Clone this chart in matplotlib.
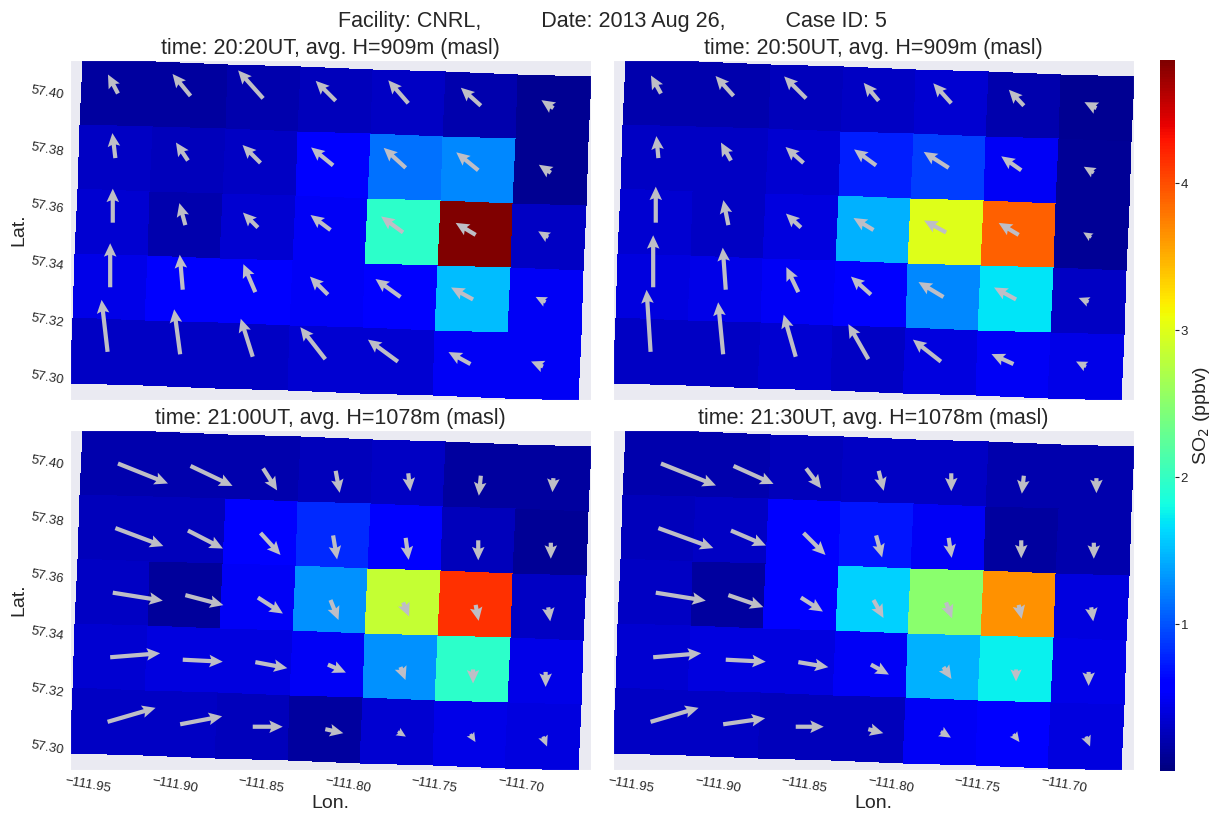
import matplotlib
matplotlib.use("Agg")
import matplotlib.pyplot as plt
import seaborn as sns
import numpy as np

sns.set_style("dark")
plt.rcParams["font.family"] = ["Liberation Sans", "DejaVu Sans"]
plt.rcParams["text.color"] = "#262626"

# grade de 2.5 km (canto NO + passos de coluna / linha em graus)
lon0, lat0 = -111.9529, 57.4102
col_dlon, col_dlat = 0.04196, -0.000857
row_dlon, row_dlat = -0.0015, -0.02268
n_rows, n_cols = 5, 7

tempos = ["20:20UT", "20:50UT", "21:00UT", "21:30UT"]
alturas = [909, 909, 1078, 1078]

# SO2 (ppbv), linhas de norte para sul, colunas de oeste para leste
so2_2020 = [[0.15, 0.15, 0.20, 0.25, 0.30, 0.20, 0.08],
            [0.30, 0.25, 0.30, 0.60, 1.15, 1.25, 0.08],
            [0.35, 0.20, 0.35, 0.50, 1.95, 4.84, 0.30],
            [0.45, 0.55, 0.55, 0.50, 0.60, 1.50, 0.50],
            [0.30, 0.30, 0.30, 0.35, 0.35, 0.50, 0.50]]
so2_2050 = [[0.20, 0.20, 0.25, 0.30, 0.35, 0.20, 0.08],
            [0.30, 0.30, 0.35, 0.75, 0.90, 0.50, 0.10],
            [0.35, 0.30, 0.40, 1.45, 3.00, 3.90, 0.10],
            [0.40, 0.45, 0.50, 0.55, 1.25, 1.70, 0.30],
            [0.30, 0.30, 0.35, 0.30, 0.40, 0.50, 0.45]]
so2_2100 = [[0.20, 0.20, 0.20, 0.25, 0.30, 0.15, 0.15],
            [0.25, 0.25, 0.55, 0.80, 0.55, 0.25, 0.10],
            [0.30, 0.12, 0.50, 1.30, 2.85, 4.15, 0.30],
            [0.35, 0.40, 0.40, 0.50, 1.30, 1.95, 0.45],
            [0.30, 0.30, 0.25, 0.15, 0.35, 0.45, 0.40]]
so2_2130 = [[0.20, 0.20, 0.25, 0.30, 0.30, 0.20, 0.20],
            [0.25, 0.30, 0.60, 0.70, 0.50, 0.15, 0.20],
            [0.30, 0.15, 0.55, 1.60, 2.50, 3.65, 0.40],
            [0.35, 0.40, 0.40, 0.50, 1.45, 1.75, 0.45],
            [0.30, 0.30, 0.25, 0.25, 0.50, 0.60, 0.40]]

# vento (m/s)
u_2020 = [[-2.0, -3.6, -5.0, -4.0, -4.0, -4.0, -2.4],
          [-0.6, -2.4, -3.6, -4.4, -4.4, -4.4, -2.4],
          [0.0, -1.2, -3.0, -4.0, -4.4, -4.0, -2.0],
          [0.0, -0.6, -2.4, -3.6, -5.0, -4.4, -2.0],
          [-1.2, -1.2, -2.4, -5.0, -6.0, -4.4, -2.4]]
v_2020 = [[3.8, 4.4, 5.6, 4.0, 4.6, 3.6, 1.6],
          [5.0, 3.6, 3.6, 3.6, 4.0, 3.6, 1.6],
          [6.8, 4.4, 3.0, 3.0, 3.2, 2.4, 1.2],
          [8.8, 7.0, 5.6, 3.6, 3.6, 2.4, 1.0],
          [10.4, 9.0, 7.6, 6.4, 4.4, 2.4, 1.0]]
u_2050 = [[-2.0, -3.6, -4.4, -3.0, -3.6, -3.0, -2.4],
          [-0.4, -2.0, -3.6, -4.4, -5.0, -4.0, -2.0],
          [0.0, -1.0, -3.0, -4.0, -4.4, -4.0, -1.6],
          [0.0, -0.6, -2.4, -4.0, -5.0, -4.4, -2.0],
          [-0.8, -1.0, -2.4, -4.0, -5.6, -4.4, -2.0]]
v_2050 = [[3.6, 4.0, 4.4, 3.6, 4.0, 3.2, 1.2],
          [4.4, 3.6, 3.2, 3.2, 3.2, 2.8, 1.2],
          [7.2, 5.0, 2.8, 2.4, 2.4, 2.4, 1.0],
          [10.4, 8.4, 5.0, 3.6, 3.0, 2.4, 0.8],
          [12.4, 10.4, 8.4, 7.0, 4.4, 2.0, 1.0]]
u_2100 = [[10.0, 8.4, 2.8, 0.8, 0.4, -0.4, -0.2],
          [9.6, 7.0, 4.0, 0.8, 0.6, 0.0, 0.0],
          [10.0, 7.6, 5.0, 1.6, 1.2, 0.6, 0.4],
          [10.0, 8.0, 6.4, 3.6, 1.0, 0.0, 0.0],
          [9.6, 8.4, 6.0, 3.6, 1.6, 1.0, 0.8]]
v_2100 = [[-4.0, -4.0, -4.4, -4.4, -3.6, -4.0, -2.8],
          [-3.6, -3.6, -4.4, -4.8, -4.4, -4.0, -3.2],
          [-1.6, -2.0, -3.2, -4.0, -2.8, -3.2, -2.8],
          [0.8, -0.4, -1.2, -1.6, -2.6, -2.8, -3.0],
          [2.8, 1.6, 0.0, -0.8, -1.0, -1.6, -2.0]]
u_2130 = [[11.0, 8.0, 3.0, 1.0, 0.0, -0.4, 0.0],
          [11.0, 7.0, 4.4, 1.2, 0.6, 0.0, 0.0],
          [10.0, 7.0, 4.4, 2.0, 1.2, 0.6, 0.4],
          [9.6, 8.0, 6.0, 3.6, 1.6, 0.0, 0.0],
          [9.6, 8.4, 5.6, 3.0, 2.0, 1.2, 0.8]]
v_2130 = [[-4.4, -3.6, -4.0, -4.0, -3.6, -3.6, -3.0],
          [-4.0, -3.0, -4.4, -4.4, -4.0, -3.6, -3.2],
          [-1.6, -2.4, -2.8, -3.6, -3.2, -2.8, -2.8],
          [0.8, -0.4, -1.0, -2.0, -2.4, -2.4, -2.8],
          [2.8, 1.2, 0.0, -0.8, -1.2, -1.6, -2.0]]

so2 = [so2_2020, so2_2050, so2_2100, so2_2130]
us = [u_2020, u_2050, u_2100, u_2130]
vs = [v_2020, v_2050, v_2100, v_2130]

x_ticks = [-111.95, -111.90, -111.85, -111.80, -111.75, -111.70]
y_ticks = [57.30, 57.32, 57.34, 57.36, 57.38, 57.40]
vmin, vmax = 0.0, 4.84

# cantos das celulas
jj, ii = np.meshgrid(np.arange(n_cols + 1), np.arange(n_rows + 1))
lon_c = lon0 + jj * col_dlon + ii * row_dlon
lat_c = lat0 + jj * col_dlat + ii * row_dlat
lon_m = (lon_c[:-1, :-1] + lon_c[1:, :-1] + lon_c[:-1, 1:] + lon_c[1:, 1:]) / 4
lat_m = (lat_c[:-1, :-1] + lat_c[1:, :-1] + lat_c[:-1, 1:] + lat_c[1:, 1:]) / 4

fig = plt.figure(figsize=(12.1, 8.13), dpi=100)
W, H = 1210, 813
pos = [(70, 60), (613, 60), (70, 430), (613, 430)]

for k in range(4):
    x0, y0 = pos[k]
    ax = fig.add_axes([x0 / W, 1 - (y0 + 340) / H, 521 / W, 340 / H])
    mesh = ax.pcolormesh(lon_c, lat_c, np.array(so2[k]), cmap="jet", vmin=vmin, vmax=vmax)
    ax.quiver(lon_m, lat_m, np.array(us[k]), np.array(vs[k]), color="#BEBEC6",
              units="dots", width=4.2, scale_units="dots", scale=0.2,
              headwidth=3.0, headlength=3.2, headaxislength=2.8, zorder=3)
    ax.set_xlim(lon_c.min(), lon_c.max())
    ax.set_ylim(lat_c.min(), lat_c.max())
    ax.set_title("time: %s, avg. H=%dm (masl)" % (tempos[k], alturas[k]), fontsize=15.5, pad=4)
    ax.set_xticks(x_ticks)
    ax.set_yticks(y_ticks)
    ax.set_xticklabels(["\u2212%.2f" % abs(t) for t in x_ticks] if k >= 2 else [])
    ax.set_yticklabels(["%.2f" % t for t in y_ticks] if k % 2 == 0 else [])
    ax.tick_params(axis="both", labelsize=9.5, length=0, pad=4, labelcolor="#262626")
    plt.setp(ax.get_xticklabels(), rotation=-10)
    plt.setp(ax.get_yticklabels(), rotation=-10)
    if k % 2 == 0:
        ax.set_ylabel("Lat.", fontsize=14, labelpad=2)
    if k >= 2:
        ax.set_xlabel("Lon.", fontsize=14, labelpad=0)

cax = fig.add_axes([1160 / W, 1 - 771 / H, 15 / W, 711 / H])
cb = fig.colorbar(mesh, cax=cax, ticks=[1, 2, 3, 4])
cb.outline.set_visible(False)
cb.ax.tick_params(length=3, width=0.8, labelsize=9.5, color="#262626", pad=1)
cb.set_label("SO$_2$ (ppbv)", fontsize=14, labelpad=2)

fig.suptitle("Facility: CNRL,          Date: 2013 Aug 26,          Case ID: 5",
             fontsize=15.5, x=0.506, y=0.986)

plt.savefig("out.png", dpi=100)
